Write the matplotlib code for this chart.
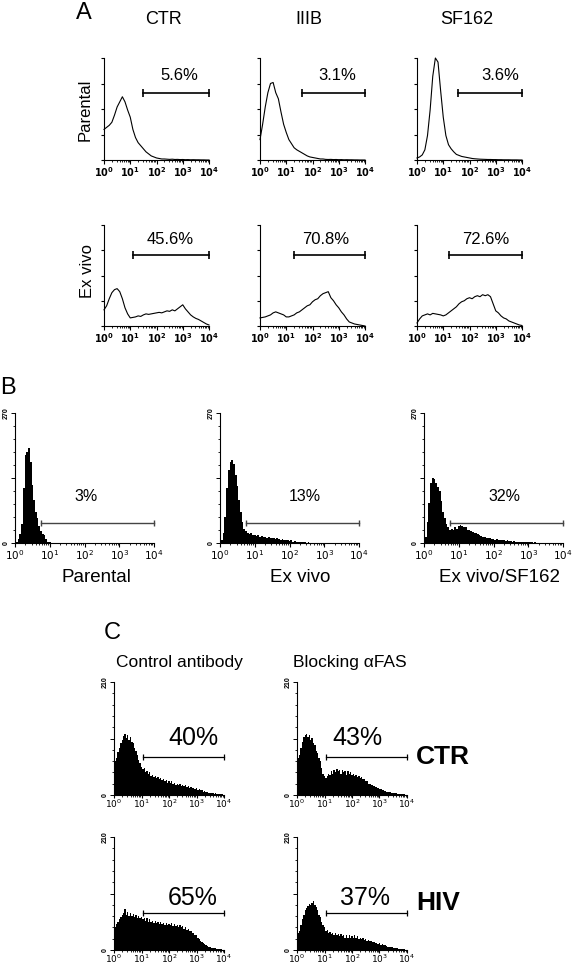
import numpy as np
import matplotlib.pyplot as plt

plt.rcParams['font.family'] = ['Liberation Sans', 'DejaVu Sans']

# ---- data (heights as fraction of full y scale, channels every 0.1 / 0.05 decade) ----
exponents = [0, 1, 2, 3, 4]

# panel A, 0.1 decade steps from 10^0 to 10^4
a_titles = ['CTR', 'IIIB', 'SF162']
a_rows = ['Parental', 'Ex vivo']
a_ctr_parental = [0.30, 0.32, 0.34, 0.37, 0.44, 0.52, 0.57, 0.62, 0.57, 0.49, 0.42,
                  0.30, 0.22, 0.17, 0.14, 0.11, 0.08, 0.06, 0.04, 0.03, 0.02,
                  0.015, 0.01, 0.01, 0.008, 0.006, 0.008, 0.005, 0.006, 0.004, 0.005,
                  0.003, 0.004, 0.002, 0.003, 0.002, 0.002, 0.001, 0.001, 0.0, 0.0]
a_iiib_parental = [0.20, 0.35, 0.52, 0.66, 0.75, 0.76, 0.66, 0.60, 0.47, 0.35, 0.27,
                   0.20, 0.16, 0.12, 0.10, 0.085, 0.07, 0.055, 0.04, 0.03, 0.025,
                   0.02, 0.015, 0.01, 0.01, 0.006, 0.005, 0.006, 0.004, 0.005, 0.003,
                   0.004, 0.002, 0.003, 0.002, 0.002, 0.001, 0.001, 0.0, 0.0, 0.0]
a_sf162_parental = [0.02, 0.03, 0.05, 0.10, 0.24, 0.49, 0.82, 1.00, 0.96, 0.68, 0.42,
                    0.24, 0.15, 0.11, 0.08, 0.055, 0.045, 0.035, 0.03, 0.025, 0.02,
                    0.015, 0.012, 0.01, 0.008, 0.007, 0.006, 0.005, 0.005, 0.004, 0.004,
                    0.003, 0.003, 0.002, 0.002, 0.002, 0.001, 0.001, 0.001, 0.0, 0.0]
a_ctr_exvivo = [0.16, 0.20, 0.27, 0.33, 0.36, 0.37, 0.34, 0.27, 0.18, 0.12, 0.08,
                0.085, 0.09, 0.10, 0.095, 0.11, 0.12, 0.115, 0.12, 0.125, 0.13,
                0.135, 0.13, 0.14, 0.15, 0.145, 0.16, 0.15, 0.17, 0.19, 0.21,
                0.17, 0.14, 0.11, 0.09, 0.075, 0.065, 0.05, 0.035, 0.02, 0.01]
a_iiib_exvivo = [0.08, 0.085, 0.09, 0.10, 0.11, 0.13, 0.14, 0.13, 0.12, 0.11, 0.09,
                 0.09, 0.10, 0.11, 0.13, 0.14, 0.16, 0.18, 0.20, 0.21, 0.24,
                 0.26, 0.27, 0.30, 0.32, 0.33, 0.34, 0.28, 0.25, 0.21, 0.18,
                 0.14, 0.11, 0.07, 0.04, 0.03, 0.02, 0.015, 0.01, 0.005, 0.0]
a_sf162_exvivo = [0.03, 0.07, 0.10, 0.11, 0.12, 0.11, 0.125, 0.12, 0.115, 0.11, 0.10,
                  0.11, 0.13, 0.15, 0.17, 0.19, 0.22, 0.24, 0.25, 0.27, 0.28,
                  0.27, 0.29, 0.30, 0.29, 0.31, 0.30, 0.31, 0.29, 0.22, 0.15,
                  0.13, 0.10, 0.08, 0.07, 0.05, 0.04, 0.03, 0.02, 0.01, 0.005]
a_pct = [['5.6%', '3.1%', '3.6%'], ['45.6%', '70.8%', '72.6%']]
a_gate = [[1.5, 1.6, 1.55], [1.1, 1.3, 1.2]]   # gate start, log10 channel

# panel B, 0.05 decade steps, full scale 270 events
b_names = ['Parental', 'Ex vivo', 'Ex vivo/SF162']
b_parental = [0.00, 0.01, 0.03, 0.07, 0.15, 0.42, 0.68, 0.70, 0.73, 0.62, 0.45,
              0.33, 0.24, 0.19, 0.13, 0.09, 0.07, 0.06, 0.03, 0.01, 0.005,
              0.0, 0.0, 0.0, 0.0, 0.0, 0.0, 0.0, 0.0, 0.0, 0.0,
              0.0, 0.0, 0.0, 0.0, 0.0, 0.0, 0.0, 0.0, 0.0, 0.0,
              0.0, 0.0, 0.0, 0.0, 0.0, 0.0, 0.0, 0.0, 0.0, 0.0,
              0.0, 0.0, 0.0, 0.0, 0.0, 0.0, 0.0, 0.0, 0.0, 0.0,
              0.0, 0.0, 0.0, 0.0, 0.0, 0.0, 0.0, 0.0, 0.0, 0.0,
              0.0, 0.0, 0.0, 0.0, 0.0, 0.0, 0.0, 0.0, 0.0, 0.0]
b_exvivo = [0.00, 0.02, 0.08, 0.20, 0.42, 0.56, 0.62, 0.64, 0.61, 0.52, 0.44,
            0.33, 0.24, 0.16, 0.11, 0.09, 0.08, 0.07, 0.075, 0.06, 0.065,
            0.055, 0.06, 0.05, 0.055, 0.045, 0.05, 0.04, 0.045, 0.04, 0.035,
            0.04, 0.03, 0.035, 0.03, 0.025, 0.03, 0.02, 0.025, 0.02, 0.015,
            0.02, 0.01, 0.015, 0.01, 0.008, 0.01, 0.005, 0.005, 0.004, 0.003,
            0.004, 0.003, 0.002, 0.003, 0.002, 0.002, 0.001, 0.002, 0.001, 0.001,
            0.001, 0.0, 0.001, 0.0, 0.0, 0.0, 0.0, 0.0, 0.0, 0.0,
            0.0, 0.0, 0.0, 0.0, 0.0, 0.0, 0.0, 0.0, 0.0, 0.0]
b_sf162 = [0.00, 0.05, 0.16, 0.31, 0.46, 0.50, 0.49, 0.46, 0.43, 0.40, 0.32,
           0.24, 0.19, 0.15, 0.12, 0.10, 0.11, 0.10, 0.12, 0.11, 0.13,
           0.14, 0.13, 0.12, 0.12, 0.10, 0.10, 0.09, 0.085, 0.08, 0.08,
           0.07, 0.06, 0.055, 0.05, 0.045, 0.04, 0.035, 0.04, 0.03, 0.03,
           0.025, 0.03, 0.02, 0.025, 0.02, 0.02, 0.015, 0.02, 0.015, 0.012,
           0.01, 0.012, 0.01, 0.008, 0.01, 0.008, 0.006, 0.006, 0.005, 0.005,
           0.004, 0.005, 0.003, 0.004, 0.003, 0.003, 0.002, 0.003, 0.002, 0.002,
           0.001, 0.002, 0.001, 0.001, 0.001, 0.0, 0.001, 0.0, 0.0, 0.0]
b_pct = ['3%', '13%', '32%']
b_gate = 0.75
b_ymax = '270'

# panel C, 0.05 decade steps, full scale 210 events
c_cols = ['Control antibody', 'Blocking \u03b1FAS']
c_rows = ['CTR', 'HIV']
c_ctr_control = [0.25, 0.30, 0.33, 0.38, 0.42, 0.46, 0.49, 0.52, 0.54, 0.50, 0.53,
                 0.49, 0.51, 0.47, 0.46, 0.42, 0.39, 0.35, 0.31, 0.28, 0.25,
                 0.23, 0.24, 0.20, 0.21, 0.19, 0.20, 0.17, 0.18, 0.16, 0.17,
                 0.15, 0.16, 0.14, 0.15, 0.13, 0.14, 0.12, 0.13, 0.11, 0.12,
                 0.11, 0.12, 0.10, 0.11, 0.09, 0.10, 0.09, 0.10, 0.08, 0.09,
                 0.08, 0.085, 0.07, 0.08, 0.065, 0.07, 0.06, 0.065, 0.05, 0.06,
                 0.045, 0.05, 0.04, 0.04, 0.03, 0.035, 0.025, 0.025, 0.02, 0.02,
                 0.015, 0.018, 0.012, 0.015, 0.01, 0.012, 0.008, 0.008, 0.005, 0.003]
c_ctr_blocking = [0.30, 0.33, 0.35, 0.42, 0.47, 0.51, 0.53, 0.54, 0.51, 0.53, 0.49,
                  0.50, 0.46, 0.44, 0.39, 0.37, 0.33, 0.30, 0.24, 0.19, 0.17,
                  0.15, 0.17, 0.19, 0.18, 0.21, 0.19, 0.22, 0.20, 0.23, 0.21,
                  0.22, 0.19, 0.22, 0.20, 0.21, 0.18, 0.21, 0.19, 0.20, 0.18,
                  0.19, 0.17, 0.18, 0.16, 0.17, 0.15, 0.16, 0.14, 0.14, 0.12,
                  0.12, 0.10, 0.10, 0.09, 0.085, 0.08, 0.07, 0.07, 0.06, 0.055,
                  0.05, 0.045, 0.04, 0.035, 0.03, 0.03, 0.025, 0.025, 0.02, 0.02,
                  0.015, 0.015, 0.012, 0.012, 0.01, 0.01, 0.008, 0.006, 0.004, 0.002]
c_hiv_control = [0.14, 0.20, 0.23, 0.25, 0.27, 0.29, 0.31, 0.33, 0.36, 0.31, 0.34,
                 0.30, 0.33, 0.30, 0.32, 0.29, 0.31, 0.28, 0.30, 0.28, 0.29,
                 0.27, 0.28, 0.26, 0.28, 0.25, 0.27, 0.25, 0.26, 0.24, 0.26,
                 0.24, 0.25, 0.23, 0.25, 0.23, 0.24, 0.22, 0.24, 0.22, 0.23,
                 0.22, 0.24, 0.21, 0.23, 0.21, 0.22, 0.20, 0.22, 0.20, 0.21,
                 0.19, 0.20, 0.18, 0.19, 0.17, 0.17, 0.15, 0.15, 0.13, 0.13,
                 0.11, 0.10, 0.08, 0.07, 0.06, 0.05, 0.04, 0.035, 0.03, 0.025,
                 0.02, 0.02, 0.015, 0.015, 0.012, 0.01, 0.008, 0.006, 0.004, 0.002]
c_hiv_blocking = [0.12, 0.15, 0.17, 0.22, 0.27, 0.31, 0.35, 0.37, 0.39, 0.41, 0.40,
                  0.42, 0.43, 0.40, 0.38, 0.35, 0.31, 0.29, 0.25, 0.22, 0.20,
                  0.17, 0.18, 0.15, 0.16, 0.14, 0.15, 0.13, 0.15, 0.13, 0.14,
                  0.12, 0.14, 0.12, 0.13, 0.11, 0.13, 0.11, 0.13, 0.11, 0.12,
                  0.11, 0.13, 0.11, 0.12, 0.10, 0.11, 0.10, 0.11, 0.09, 0.10,
                  0.08, 0.09, 0.08, 0.08, 0.07, 0.075, 0.06, 0.065, 0.055, 0.06,
                  0.045, 0.05, 0.04, 0.04, 0.035, 0.03, 0.03, 0.025, 0.025, 0.02,
                  0.018, 0.015, 0.015, 0.012, 0.01, 0.008, 0.006, 0.005, 0.003, 0.002]
c_pct = [['40%', '43%'], ['65%', '37%']]
c_gate = 1.05
c_ymax = '210'

# ---- layout helpers (pixel coordinates of the 574x964 canvas) ----
W, H = 574, 964
fig = plt.figure(figsize=(W / 100, H / 100), dpi=100)


def add_ax(l, t, r, b):
    return fig.add_axes([l / W, 1 - b / H, (r - l) / W, (b - t) / H])


def label(x, y, s, **kw):
    fig.text(x / W, 1 - y / H, s, ha='center', va='center', **kw)


minor_x = [n + np.log10(k) for n in range(4) for k in range(2, 10)]


def log_x(ax, labels, fs, pad=1, length=3):
    ax.set_xlim(0, 4)
    ax.set_xticks(exponents)
    ax.set_xticklabels(labels, fontsize=fs)
    ax.set_xticks(minor_x, minor=True)
    ax.tick_params(axis='x', which='major', length=length, width=0.8, pad=pad)
    ax.tick_params(axis='x', which='minor', length=1.5, width=0.6)
    for s in ['top', 'right']:
        ax.spines[s].set_visible(False)
    for s in ['left', 'bottom']:
        ax.spines[s].set_linewidth(0.8)


def count_y(ax, ymax):
    ax.set_ylim(0, 1)
    ax.set_yticks([0, 0.5, 1])
    ax.set_yticklabels(['0', '', ymax], rotation=90, fontsize=5,
                       fontweight='bold', va='center')
    ax.set_yticks(np.linspace(0, 1, 11), minor=True)
    ax.tick_params(axis='y', which='major', length=3, width=0.7, pad=1)
    ax.tick_params(axis='y', which='minor', length=1.5, width=0.6)


def gate(ax, x0, y, color='black', lw=1.2, ms=6):
    ax.plot([x0, 4], [y, y], color=color, lw=lw, marker='|', ms=ms, mew=lw,
            clip_on=False)


# ---- panel A ----
a_data = [[a_ctr_parental, a_iiib_parental, a_sf162_parental],
          [a_ctr_exvivo, a_iiib_exvivo, a_sf162_exvivo]]
a_left = [104, 260, 417]
a_tb = [(58, 160), (225, 326)]
a_bar_y = [93, 255]
a_pct_xy = [[(179, 76), (337, 76), (500, 76)], [(170, 240), (326, 240), (486, 240)]]
a_ticklabels = [r'$\mathbf{10^{%d}}$' % e for e in exponents]

for r in range(2):
    top, bot = a_tb[r]
    for c in range(3):
        ax = add_ax(a_left[c], top, a_left[c] + 105, bot)
        y = a_data[r][c]
        x = np.linspace(0, 4, len(y))
        ax.plot(x, y, color='black', lw=0.8, clip_on=False)
        ax.set_ylim(0, 1)
        log_x(ax, a_ticklabels, 7)
        ax.set_yticks(np.linspace(0, 1, 5))
        ax.set_yticklabels([])
        ax.tick_params(axis='y', length=2.5, width=0.8)
        gate(ax, a_gate[r][c], (bot - a_bar_y[r]) / (bot - top))
        label(*a_pct_xy[r][c], a_pct[r][c], fontsize=12)

label(84, 13, 'A', fontsize=17)
for t, xx in zip(a_titles, [164, 309, 467]):
    label(xx, 19, t, fontsize=13)
label(85, 110, a_rows[0], fontsize=12, rotation=90)
label(88, 271, a_rows[1], fontsize=12, rotation=90)

# ---- panel B ----
b_data = [b_parental, b_exvivo, b_sf162]
b_left = [15, 220, 424]
b_ticklabels = [r'$10^{%d}$' % e for e in exponents]
for c in range(3):
    ax = add_ax(b_left[c], 413, b_left[c] + 139, 543)
    y = b_data[c]
    x = np.linspace(0, 4, len(y))
    ax.fill_between(x, y, step='mid', color='black', lw=0)
    log_x(ax, b_ticklabels, 7.5, pad=0.5)
    count_y(ax, b_ymax)
    gate(ax, b_gate, (543 - 523) / 130, color='#444444', lw=1.0, ms=5)
    label([86, 305, 504][c], 497, b_pct[c], fontsize=11.5)
    label([96, 300, 500][c], 577, b_names[c], fontsize=13.5)
label(8, 388, 'B', fontsize=17)

# ---- panel C ----
c_data = [[c_ctr_control, c_ctr_blocking], [c_hiv_control, c_hiv_blocking]]
c_left = [114, 297]
c_tb = [(682, 795), (837, 950)]
c_bar_y = [757, 913]
c_pct_xy = [[(193, 738), (357, 738)], [(193, 898), (365, 898)]]
for r in range(2):
    top, bot = c_tb[r]
    for c in range(2):
        ax = add_ax(c_left[c], top, c_left[c] + 110, bot)
        y = c_data[r][c]
        x = np.linspace(0, 4, len(y))
        ax.fill_between(x, y, step='mid', color='black', lw=0)
        log_x(ax, b_ticklabels, 6.5, pad=0, length=2)
        count_y(ax, c_ymax)
        gate(ax, c_gate, (bot - c_bar_y[r]) / (bot - top), lw=0.9, ms=5)
        label(*c_pct_xy[r][c], c_pct[r][c], fontsize=18)
label(112, 633, 'C', fontsize=17)
label(179, 662, c_cols[0], fontsize=12.5)
label(350, 662, c_cols[1], fontsize=12.5)
label(443, 757, c_rows[0], fontsize=19, fontweight='bold')
label(438, 903, c_rows[1], fontsize=19, fontweight='bold')

fig.savefig('out.png', dpi=100)
